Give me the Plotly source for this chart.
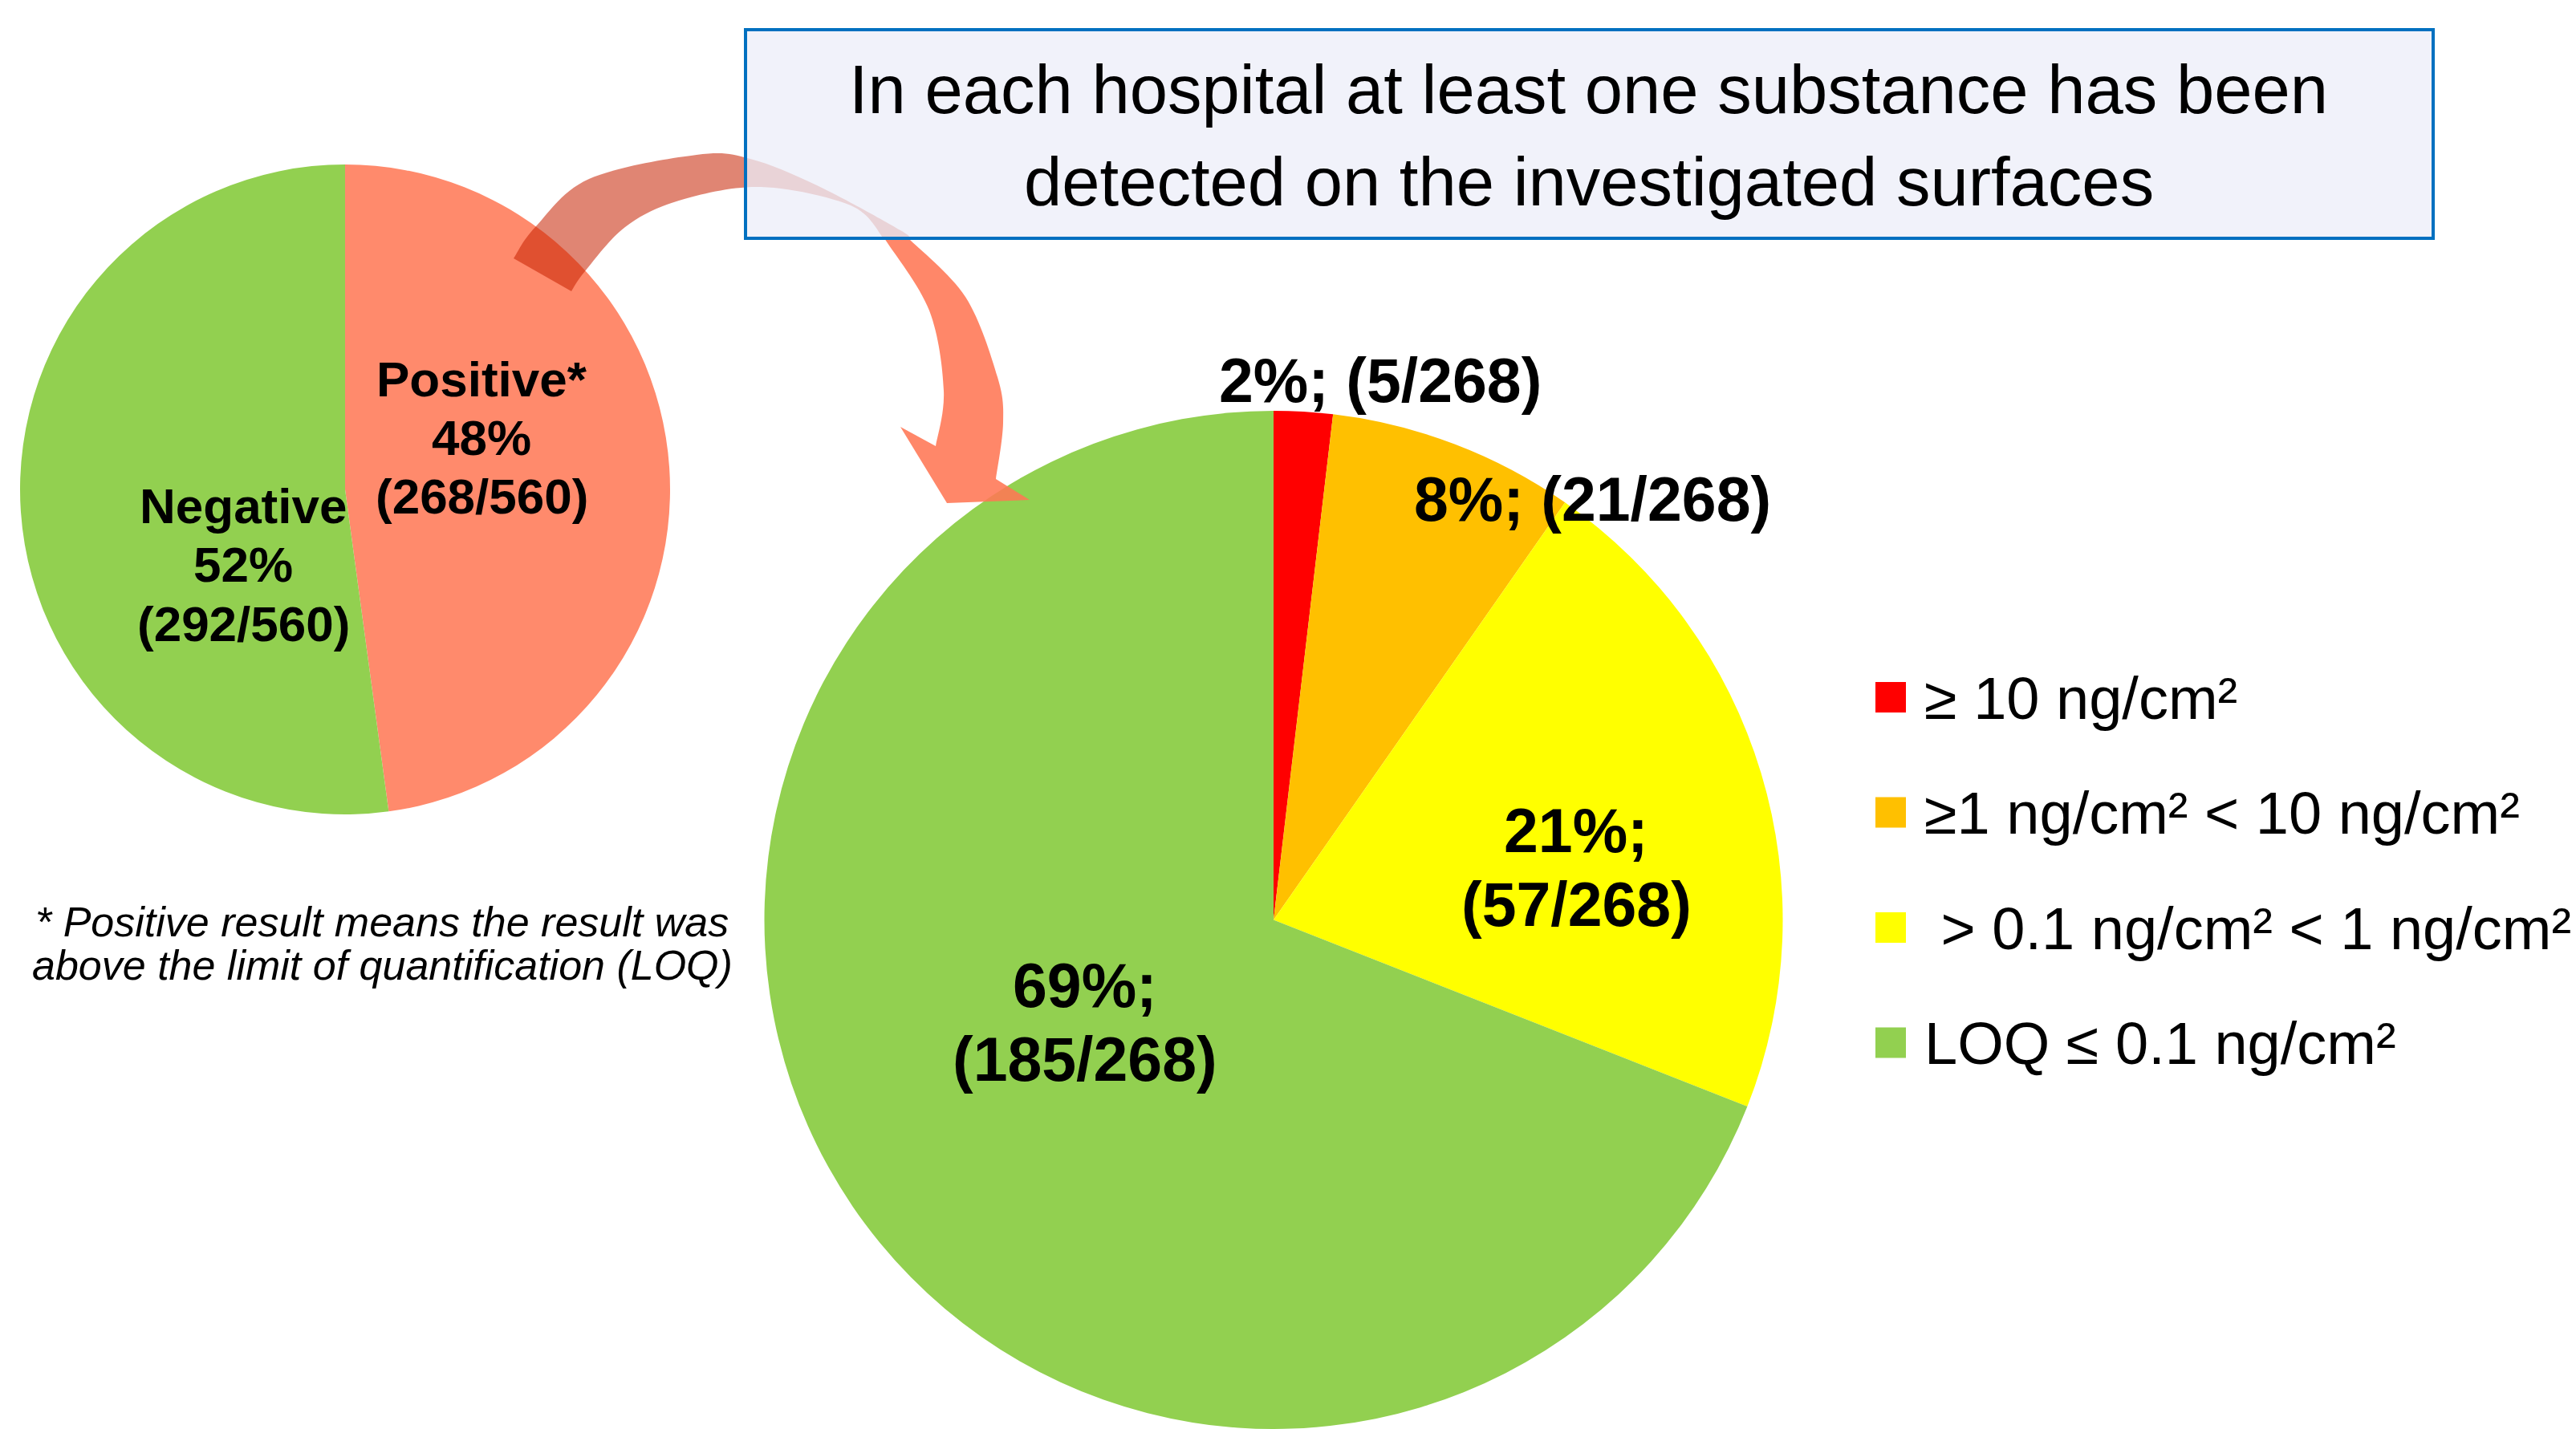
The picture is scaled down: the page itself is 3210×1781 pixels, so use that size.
import plotly.graph_objects as go

W, H = 3210, 1781
FONT = "Liberation Sans, Arial, Helvetica, sans-serif"

# ---------------- data ----------------
overview_labels = ["Positive*", "Negative"]
overview_counts = [268, 292]
overview_colors = ["#FF8A6C", "#92D050"]

conc_labels = ["≥ 10 ng/cm²", "≥1 ng/cm² < 10 ng/cm²",
               "\u00a0> 0.1 ng/cm² < 1 ng/cm²", "LOQ ≤ 0.1 ng/cm²"]
conc_counts = [5, 21, 57, 185]
conc_colors = ["#FF0000", "#FFC000", "#FFFF00", "#92D050"]

title_lines = ["In each hospital at least one substance has been",
               "detected on the investigated surfaces"]
footnote_lines = ["* Positive result means the result was",
                  "above the limit of quantification (LOQ)"]

# ---------------- helpers ----------------
def px(x):
    return x / W


def py(y):
    return 1 - y / H


def esc(s):
    return s.replace("&", "&amp;").replace("<", "&lt;").replace(">", "&gt;")


annotations = []
shapes = []


def add_text(x, y, text, size, weight="normal", style="normal", xanchor="center"):
    annotations.append(dict(
        x=px(x), y=py(y), xref="paper", yref="paper", text=esc(text),
        showarrow=False, xanchor=xanchor, yanchor="middle",
        font=dict(family=FONT, size=size, color="black", weight=weight, style=style),
    ))


def smooth(points):
    """Catmull-Rom spline through the given points as SVG cubic segments (paper coords)."""
    pts = points
    out = []
    for i in range(len(pts) - 1):
        p0 = pts[i - 1] if i > 0 else pts[i]
        p1 = pts[i]
        p2 = pts[i + 1]
        p3 = pts[i + 2] if i + 2 < len(pts) else pts[i + 1]
        c1 = (p1[0] + (p2[0] - p0[0]) / 6, p1[1] + (p2[1] - p0[1]) / 6)
        c2 = (p2[0] - (p3[0] - p1[0]) / 6, p2[1] - (p3[1] - p1[1]) / 6)
        out.append("C {:.5f},{:.5f} {:.5f},{:.5f} {:.5f},{:.5f}".format(
            px(c1[0]), py(c1[1]), px(c2[0]), py(c2[1]), px(p2[0]), py(p2[1])))
    return " ".join(out)


def M(p):
    return "M {:.5f},{:.5f}".format(px(p[0]), py(p[1]))


def L(p):
    return "L {:.5f},{:.5f}".format(px(p[0]), py(p[1]))


# ---------------- pies ----------------
fig = go.Figure()

# small overview pie: centre (430, 610), r = 405
sc_x, sc_y, sr = 430, 610, 405
fig.add_trace(go.Pie(
    labels=overview_labels, values=overview_counts, sort=False,
    direction="clockwise", rotation=0,
    marker=dict(colors=overview_colors, line=dict(width=0)),
    textinfo="none", textposition="none", hoverinfo="label+value+percent",
    domain=dict(x=[px(sc_x - sr), px(sc_x + sr)], y=[py(sc_y + sr), py(sc_y - sr)]),
    showlegend=False,
))

# big concentration pie: top at y = 512, clipped at bottom of figure
bc_x, b_top = 1587, 512
br = (H - b_top) / 2
fig.add_trace(go.Pie(
    labels=conc_labels, values=conc_counts, sort=False,
    direction="clockwise", rotation=0,
    marker=dict(colors=conc_colors, line=dict(width=0)),
    textinfo="none", textposition="none", hoverinfo="label+value+percent",
    domain=dict(x=[px(bc_x - br), px(bc_x + br)], y=[0, py(b_top)]),
    showlegend=False,
))

# ---------------- curved arrow (decoration) ----------------
outer_a = [(640, 322), (667, 283), (734, 223), (868, 193), (935, 198),
           (1020, 232), (1122, 287), (1132, 297)]
inner_a = [(1101, 297), (1060, 256), (948, 233), (846, 250), (779, 283),
           (729, 338), (712, 363)]
path_a = M(outer_a[0]) + " " + smooth(outer_a) + " " + L(inner_a[0]) + " " + smooth(inner_a) + " Z"
shapes.append(dict(type="path", xref="paper", yref="paper", path=path_a,
                   fillcolor="rgba(199,32,0,0.55)", line=dict(width=0), layer="above"))

outer_b = [(1132, 297), (1203, 370), (1243, 470), (1250, 527), (1241, 597)]
head = [(1283, 623), (1180, 627), (1122, 532), (1166, 556)]
inner_b = [(1166, 556), (1176, 487), (1158, 387), (1104, 300), (1101, 297)]
path_b = (M(outer_b[0]) + " " + smooth(outer_b) + " " +
          " ".join(L(p) for p in head) + " " + smooth(inner_b) + " Z")
shapes.append(dict(type="path", xref="paper", yref="paper", path=path_b,
                   fillcolor="rgba(255,118,84,0.88)", line=dict(width=0), layer="above"))

# ---------------- title box ----------------
shapes.append(dict(type="rect", xref="paper", yref="paper",
                   x0=px(929), x1=px(3032), y0=py(297), y1=py(37),
                   fillcolor="rgba(236,238,248,0.75)",
                   line=dict(color="#0070C0", width=4), layer="above"))
for line_text, yy in zip(title_lines, [112, 226]):
    add_text(1980, yy, line_text, 85)

# ---------------- pie labels ----------------
ov_total = sum(overview_counts)
ov_label_x = [600, 303]
ov_label_y0 = [472, 630]
for name, n, lx, ly in zip(overview_labels, overview_counts, ov_label_x, ov_label_y0):
    lines = [name, f"{round(100 * n / ov_total)}%", f"({n}/{ov_total})"]
    for k, t in enumerate(lines):
        add_text(lx, ly + 73.5 * k, t, 62, weight="bold")

c_total = sum(conc_counts)
c_label_x = [1720, 1984, 1964, 1352]
c_label_y0 = [474, 622, 1035, 1228]
c_two_lines = [False, False, True, True]
for n, lx, ly, two in zip(conc_counts, c_label_x, c_label_y0, c_two_lines):
    pct = f"{round(100 * n / c_total)}%;"
    frac = f"({n}/{c_total})"
    lines = [pct, frac] if two else [pct + " " + frac]
    for k, t in enumerate(lines):
        add_text(lx, ly + 92 * k, t, 77, weight="bold")

# ---------------- legend (manual, large squares) ----------------
leg_y0, leg_dy = 869, 143.5
for i, (lab, col) in enumerate(zip(conc_labels, conc_colors)):
    yy = leg_y0 + leg_dy * i
    shapes.append(dict(type="rect", xref="paper", yref="paper",
                       x0=px(2337), x1=px(2375), y0=py(yy + 19), y1=py(yy - 19),
                       fillcolor=col, line=dict(width=0), layer="above"))
    add_text(2396, yy + 1, lab, 74, xanchor="left")

# ---------------- footnote ----------------
for line_text, yy in zip(footnote_lines, [1149, 1203]):
    add_text(476, yy, line_text, 52, style="italic")

fig.update_layout(
    width=W, height=H, autosize=False,
    margin=dict(l=0, r=0, t=0, b=0, pad=0),
    paper_bgcolor="white", plot_bgcolor="white",
    showlegend=False,
    shapes=shapes, annotations=annotations,
    font=dict(family=FONT, color="black"),
)

fig.write_html("out.html", config={"displayModeBar": False},
               post_script="document.body.style.margin='0';document.body.style.overflow='hidden';")
